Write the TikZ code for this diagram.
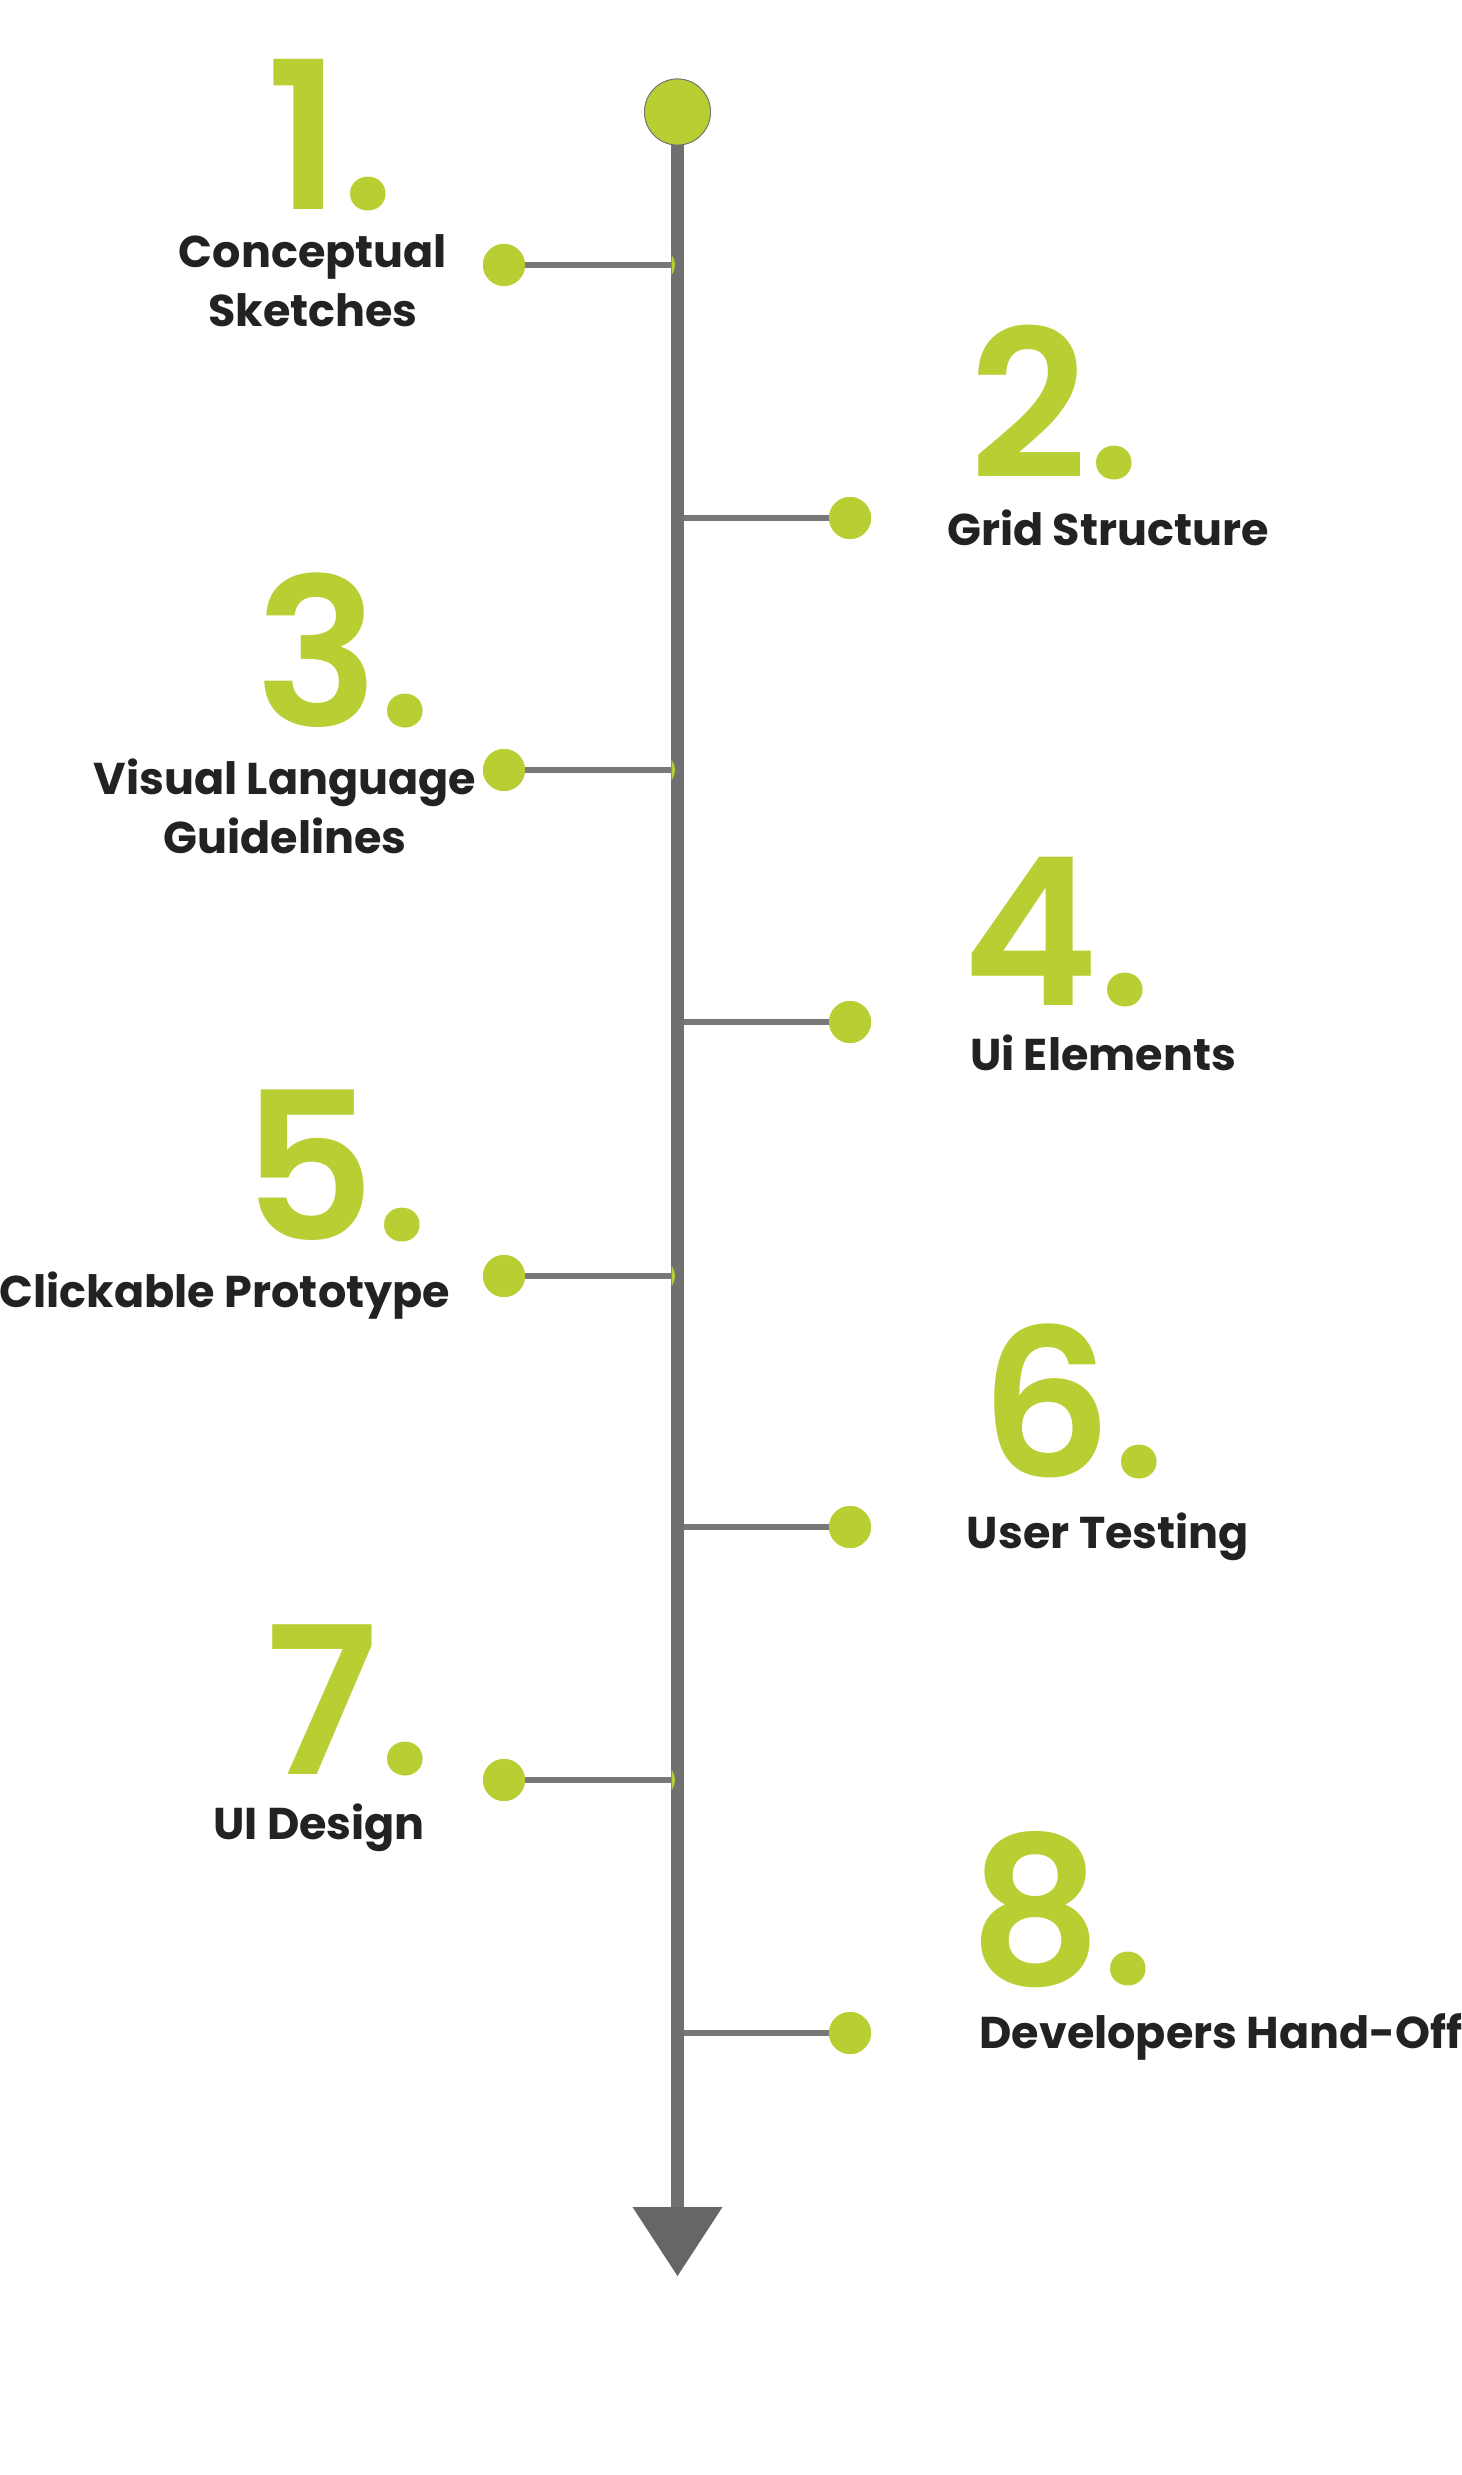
\documentclass[tikz,border=0pt]{standalone}
\usepackage{fontspec}
\setmainfont{Poppins}
\newfontfamily\numfont{Poppins}[UprightFont=* SemiBold]
\definecolor{lime}{RGB}{184,206,51}
\definecolor{axisgray}{RGB}{112,112,112}
\definecolor{branchgray}{RGB}{120,120,120}
\definecolor{tipgray}{RGB}{102,102,102}
\definecolor{ink}{RGB}{34,34,34}
\tikzset{
  dot/.style={circle,fill=lime,draw=none,minimum size=42pt,inner sep=0pt},
  topdot/.style={circle,fill=lime,draw=axisgray,line width=0.8pt,minimum size=66pt,inner sep=0pt},
  branch/.style={draw=branchgray,line width=5.5pt},
  axis/.style={draw=axisgray,line width=13pt},
  num/.style={text=lime,inner sep=0pt,anchor=base,text height=150pt,text depth=0pt,font=\numfont\fontsize{206}{206}\selectfont},
  lbl/.style={text=ink,inner sep=0pt,anchor=base,align=center,font=\bfseries\fontsize{44.5}{59}\selectfont}
}
\begin{document}
\begin{tikzpicture}[x=1pt,y=-1pt]
\useasboundingbox (0,0) rectangle (1461,2475);
\fill[white] (0,0) rectangle (1461,2475);
% junctions on the axis
\foreach \n/\y in {1/265,3/770,5/1276,7/1780}{\coordinate (j\n) at (677.5,\y);}
\foreach \n/\y in {2/518,4/1022,6/1527,8/2033}{\coordinate (j\n) at (677.5,\y);}
% dots
\node[dot] (d1) at (504,265) {};
\node[dot] (d3) at (504,770) {};
\node[dot] (d5) at (504,1276) {};
\node[dot] (d7) at (504,1780) {};
\node[dot] (d2) at (850,518) {};
\node[dot] (d4) at (850,1022) {};
\node[dot] (d6) at (850,1527) {};
\node[dot] (d8) at (850,2033) {};
% branches
\foreach \n in {1,...,8}{\draw[branch] (j\n) -- (d\n);}
\foreach \n in {1,...,8}{\node[dot] at (d\n) {};}
% axis
\node[topdot] (top) at (677.5,112) {};
\coordinate (tiptop) at (677.5,2208);
\coordinate (tip) at (677.5,2276);
\draw[axis] (top.south) -- (tiptop);
\fill[tipgray] (632.5,2207) -- (722.5,2207) -- (tip) -- cycle;
\node[topdot] at (top) {};
% small green slivers at left junctions
\foreach \y in {265,770,1276,1780}{
  \fill[lime] (671.5,\y-10) .. controls (676,\y-5) and (676,\y+5) .. (671.5,\y+10) -- cycle;
}
% numbers
\node[num] (n1) at (331,210) {1.};
\node[num] (n2) at (1055,478) {2.};
\node[num] (n3) at (344,726) {3.};
\node[num] (n4) at (1057,1005) {4.};
\node[num] (n5) at (336,1240) {5.};
\node[num] (n6) at (1073,1477) {6.};
\node[num] (n7) at (349,1774) {7.};
\node[num] (n8) at (1062,1984) {8.};
% labels
\node[lbl] (l1) at (313,326) {Conceptual\\Sketches};
\node[lbl] (l2) at (1108,545) {Grid Structure};
\node[lbl] (l3) at (285,853) {Visual Language\\Guidelines};
\node[lbl] (l4) at (1103,1070) {Ui Elements};
\node[lbl] (l5) at (225,1307) {Clickable Prototype};
\node[lbl] (l6) at (1108,1548) {User Testing};
\node[lbl] (l7) at (319,1839) {UI Design};
\node[lbl] (l8) at (1221,2048) {Developers Hand-Off};
\end{tikzpicture}
\end{document}
